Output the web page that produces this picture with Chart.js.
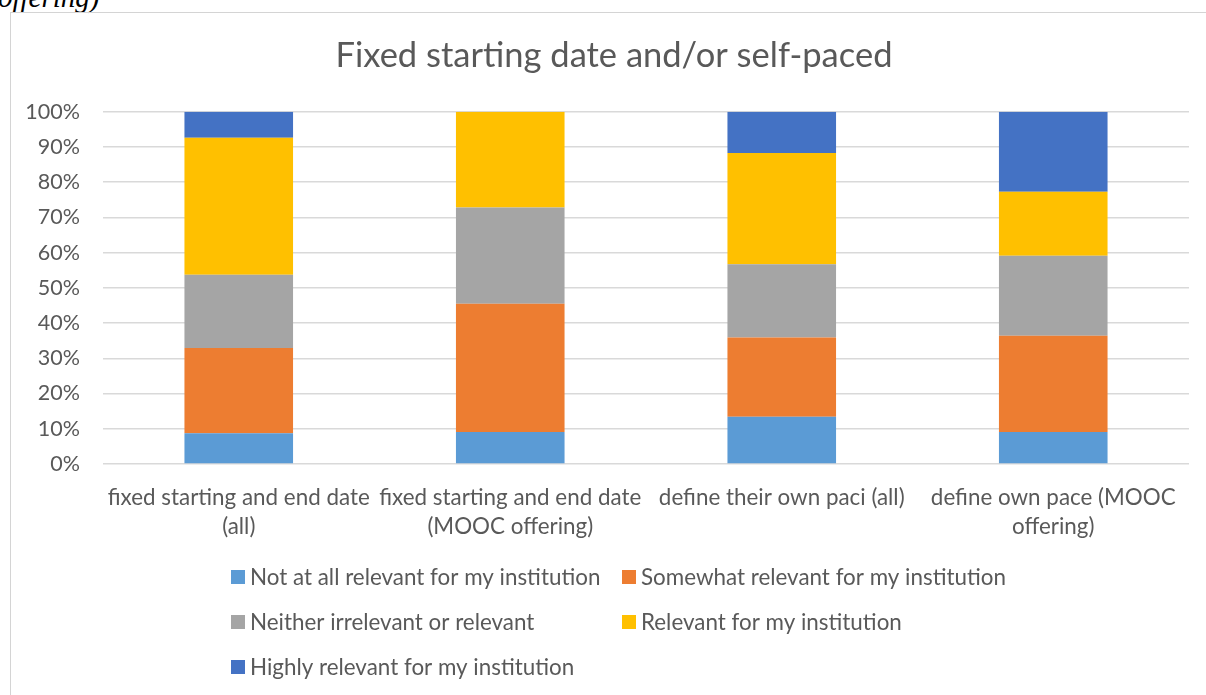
<!DOCTYPE html>
<html>
<head>
<meta charset="utf-8">
<script src="https://cdn.jsdelivr.net/npm/chart.js@4/dist/chart.umd.min.js"></script>
<style>
    html, body { margin: 0; padding: 0; background: #fff; overflow: hidden; width: 1206px; height: 695px; }
    #cut { position: absolute; left: -2px; top: -19px; font: italic 29px "Liberation Serif", serif; color: #000; }
    #box { position: absolute; left: 10px; top: 12px; width: 1220px; height: 700px; border-left: 1px solid #d4d4d4; border-top: 1px solid #d4d4d4; }
    #chart { position: absolute; left: 0; top: 0; }
</style>
</head>
<body>
<div id="cut">offering)</div>
<div id="box"><canvas id="chart" width="1206" height="690"></canvas></div>
<script>
const title = 'Fixed starting date and/or self-paced';
const categories = [
    ['fixed starting and end date', '(all)'],
    ['fixed starting and end date', '(MOOC offering)'],
    ['define their own paci (all)'],
    ['define own pace (MOOC', 'offering)']
];
const seriesNames = [
    'Not at all relevant for my institution',
    'Somewhat relevant for my institution',
    'Neither irrelevant or relevant',
    'Relevant for my institution',
    'Highly relevant for my institution'
];
const notAtAll = [8.7, 9.1, 13.4, 9.1];
const somewhat = [24.2, 36.4, 22.5, 27.3];
const neither = [20.8, 27.3, 20.8, 22.7];
const relevant = [38.9, 27.2, 31.6, 18.2];
const highly = [7.4, 0, 11.7, 22.7];
const colors = ['#5b9bd5', '#ed7d31', '#a5a5a5', '#ffc000', '#4472c4'];

const textColor = '#595959';
const fontFamily = 'Lato, "Open Sans", sans-serif';

// title centred on the whole chart box + two-column legend like the Excel one
const excelBits = {
    id: 'excelBits',
    afterDraw(chart) {
        const ctx = chart.ctx;
        ctx.save();
        ctx.fillStyle = textColor;
        ctx.textBaseline = 'middle';
        ctx.textAlign = 'center';
        ctx.font = '34.5px ' + fontFamily;
        ctx.fillText(title, 603, 43);

        const colX = [220, 611];
        const rowY = [564, 609, 654];
        ctx.font = '22.4px ' + fontFamily;
        ctx.textAlign = 'left';
        chart.data.datasets.forEach((ds, i) => {
            const x = colX[i % 2];
            const y = rowY[Math.floor(i / 2)];
            ctx.fillStyle = ds.backgroundColor;
            ctx.fillRect(x, y - 7, 14, 14);
            ctx.fillStyle = textColor;
            ctx.fillText(ds.label, x + 19, y + 1);
        });
        ctx.restore();
    }
};

const data = [notAtAll, somewhat, neither, relevant, highly];

new Chart(document.getElementById('chart'), {
    type: 'bar',
    data: {
        labels: categories,
        datasets: seriesNames.map((name, i) => ({
            label: name,
            data: data[i],
            backgroundColor: colors[i],
            borderWidth: 0,
            barPercentage: 0.4,
            categoryPercentage: 1
        }))
    },
    options: {
        responsive: false,
        animation: false,
        layout: { padding: { left: 0, right: 28, top: 98.7, bottom: 139 } },
        plugins: {
            legend: { display: false },
            tooltip: { enabled: false },
            title: { display: false }
        },
        scales: {
            x: {
                stacked: true,
                grid: { display: false },
                border: { display: false },
                ticks: {
                    color: textColor,
                    font: { family: fontFamily, size: 22.4, lineHeight: 1.3 },
                    padding: 11,
                    maxRotation: 0,
                    autoSkip: false
                },
                afterFit: s => { s.height = 100; }
            },
            y: {
                stacked: true,
                min: 0,
                max: 100,
                grid: { color: '#d9d9d9', lineWidth: 1.5, drawTicks: false },
                border: { display: false },
                ticks: {
                    stepSize: 10,
                    color: textColor,
                    font: { family: fontFamily, size: 21.5 },
                    padding: 23,
                    callback: v => v + '%'
                },
                afterFit: s => { s.width = 92; }
            }
        }
    },
    plugins: [excelBits]
});
</script>
</body>
</html>
